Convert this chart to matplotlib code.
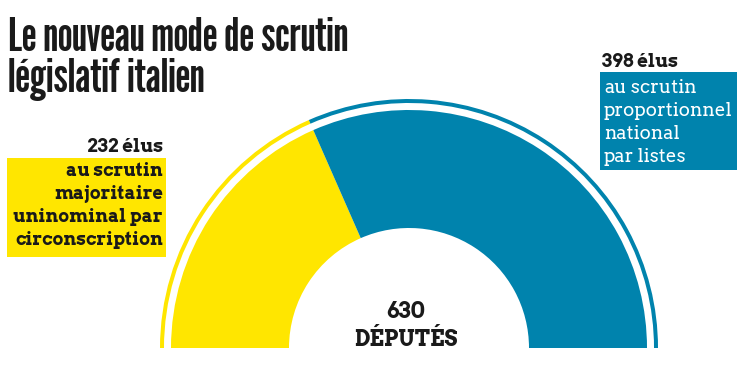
import matplotlib.pyplot as plt
from matplotlib.patches import Wedge, Rectangle

# data
labels = ["au scrutin\nmajoritaire\nuninominal par\ncirconscription",
          "au scrutin\nproportionnel\nnational\npar listes"]
seats = [232, 398]
seat_labels = ["232 élus", "398 élus"]
total_label = ["630", "DÉPUTÉS"]
colors = ["#FFE600", "#0083AD"]

H = 374
fig = plt.figure(figsize=(7.5, 3.74), dpi=100)
ax = fig.add_axes([0, 0, 1, 1])
ax.set_xlim(0, 750)
ax.set_ylim(0, H)
ax.set_aspect("equal")
ax.axis("off")

cx, cy = 409, H - 348
r_out, r_in = 238, 120
ring_r, ring_w = 249, 4

total = sum(seats)
start = 180
for val, col in zip(seats, colors):
    span = val / total * 180
    ax.add_patch(Wedge((cx, cy), r_out, start - span, start, width=r_out - r_in,
                       facecolor=col, edgecolor="none"))
    ax.add_patch(Wedge((cx, cy), ring_r, start - span, start, width=ring_w,
                       facecolor=col, edgecolor="none"))
    start -= span

dark = "#1a1a1a"
serif = ["Arvo", "DejaVu Serif"]

# title
ax.text(8, H - 92, "Le nouveau mode de scrutin\nlégislatif italien",
        family=["League Gothic", "DejaVu Sans"], fontsize=34, color=dark,
        va="baseline", linespacing=0.95)

# left label (yellow)
ax.add_patch(Rectangle((7, H - 257), 159, 99, facecolor=colors[0], edgecolor="none"))
ax.text(163, H - 152, seat_labels[0], ha="right", va="baseline", family=serif,
        weight="bold", fontsize=13.5, color=dark)
ax.text(163, H - 245, labels[0], ha="right", va="baseline", family=serif,
        weight="bold", fontsize=13, color=dark, linespacing=1.35, multialignment="right")

# right label (blue)
ax.add_patch(Rectangle((600, H - 170), 137, 98, facecolor=colors[1], edgecolor="none"))
ax.text(602, H - 67, seat_labels[1], ha="left", va="baseline", family=serif,
        weight="bold", fontsize=13.5, color=dark)
ax.text(604, H - 162, labels[1], ha="left", va="baseline", family=serif,
        fontsize=13.5, color="white", linespacing=1.35)

# centre
ax.text(cx - 3, H - 318, total_label[0], ha="center", va="baseline", family=serif,
        weight="bold", fontsize=16, color=dark)
ax.text(cx - 3, H - 346, total_label[1], ha="center", va="baseline", family=serif,
        weight="bold", fontsize=15.5, color=dark)

fig.savefig("out.png", dpi=100)
